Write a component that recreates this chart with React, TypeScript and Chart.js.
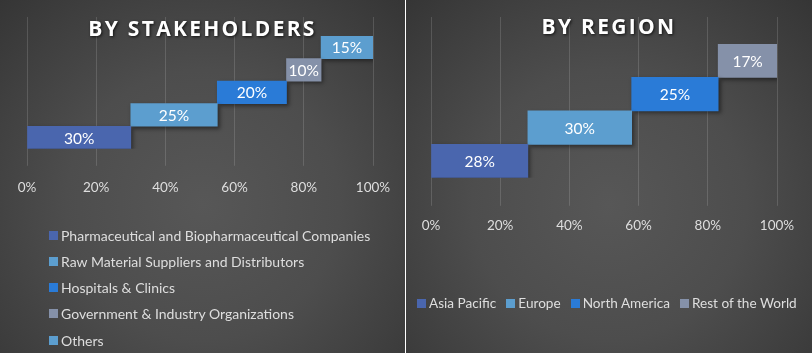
import React, { useEffect, useRef } from "react";
import { Chart, registerables } from "chart.js";

Chart.register(...registerables);

// ---------- data ----------
const stakeholderCategories = [
  "Pharmaceutical and Biopharmaceutical Companies",
  "Raw Material Suppliers and Distributors",
  "Hospitals & Clinics",
  "Government & Industry Organizations",
  "Others",
];
const stakeholderValues = [30, 25, 20, 10, 15];
const stakeholderColors = ["#4a66ae", "#5c9ecf", "#2a7bd7", "#8591a9", "#5c9ecf"];

const regionCategories = ["Asia Pacific", "Europe", "North America", "Rest of the World"];
const regionValues = [28, 30, 25, 17];
const regionColors = ["#4a66ae", "#5c9ecf", "#2a7bd7", "#8591a9"];

const axisTicks = [0, 20, 40, 60, 80, 100];

const GRID = "rgba(255,255,255,0.14)";
const TEXT = "#dedede";
const BG =
  "radial-gradient(ellipse 75% 85% at 50% 58%, #575757 0%, #4d4d4d 45%, #3f3f3f 75%, #333333 100%)";

type Layout = {
  padLeft: number;
  padRight: number;
  padTop: number;
  padBottom: number;
  topTick: number;
  bottomTick: number;
  labelPad: number;
};

function WaterfallChart({
  categories,
  values,
  colors,
  width,
  height,
  layout,
}: {
  categories: string[];
  values: number[];
  colors: string[];
  width: number;
  height: number;
  layout: Layout;
}) {
  const ref = useRef<HTMLCanvasElement | null>(null);

  useEffect(() => {
    if (!ref.current) return;
    let chart: Chart | null = null;
    let cancelled = false;

    const build = () => {
      if (cancelled || !ref.current) return;
      let cum = 0;
      const datasets = categories.map((name, i) => {
        const start = cum;
        cum += values[i];
        const end = cum;
        return {
          label: name,
          data: categories.map((_, j) => (j === i ? [start, end] : null)),
          backgroundColor: colors[i],
          borderWidth: 0,
          grouped: false,
          barPercentage: 1,
          categoryPercentage: 1,
        };
      });

      const setTicks = (scale: any) => {
        scale.ticks = axisTicks.map((v) => ({ value: v }));
      };

      const labelPlugin = {
        id: "barLabels",
        beforeDatasetsDraw(c: any) {
          const ctx = c.ctx;
          ctx.save();
          ctx.shadowColor = "rgba(0,0,0,0.45)";
          ctx.shadowBlur = 4;
          ctx.shadowOffsetX = 2;
          ctx.shadowOffsetY = 2;
        },
        afterDatasetsDraw(c: any) {
          const ctx = c.ctx;
          ctx.restore();
          ctx.save();
          ctx.fillStyle = "#ffffff";
          ctx.font = "15.5px Lato";
          ctx.textAlign = "center";
          ctx.textBaseline = "middle";
          c.data.datasets.forEach((ds: any, i: number) => {
            const meta = c.getDatasetMeta(i);
            meta.data.forEach((el: any, j: number) => {
              if (ds.data[j] == null) return;
              const p = el.getCenterPoint();
              ctx.fillText(values[i] + "%", p.x, p.y + 1);
            });
          });
          ctx.restore();
        },
      };

      chart = new Chart(ref.current, {
        type: "bar",
        data: { labels: categories, datasets: datasets as any },
        options: {
          indexAxis: "y",
          animation: false,
          responsive: false,
          layout: {
            padding: {
              left: layout.padLeft,
              right: layout.padRight,
              top: layout.padTop,
              bottom: layout.padBottom,
            },
          },
          plugins: {
            legend: { display: false },
            tooltip: { enabled: false },
            title: { display: false },
          },
          scales: {
            y: { type: "category", display: false, reverse: true },
            x: {
              type: "linear",
              position: "bottom",
              min: axisTicks[0],
              max: axisTicks[axisTicks.length - 1],
              afterBuildTicks: setTicks,
              grid: { color: GRID, lineWidth: 1, tickLength: layout.bottomTick },
              border: { display: false },
              ticks: {
                color: TEXT,
                font: { family: "Lato", size: 13.5 },
                padding: layout.labelPad,
                callback: (v: any) => v + "%",
              },
            },
            x2: {
              type: "linear",
              position: "top",
              min: axisTicks[0],
              max: axisTicks[axisTicks.length - 1],
              afterBuildTicks: setTicks,
              grid: {
                color: GRID,
                lineWidth: 1,
                drawOnChartArea: false,
                tickLength: layout.topTick,
              },
              border: { display: false },
              ticks: { display: false },
            },
          } as any,
        },
        plugins: [labelPlugin],
      });
    };

    const fontsReady = (document as any).fonts
      ? Promise.all([
          (document as any).fonts.load("13px Lato"),
          (document as any).fonts.load("15px Lato"),
        ]).catch(() => null)
      : Promise.resolve(null);
    fontsReady.then(build);

    return () => {
      cancelled = true;
      if (chart) chart.destroy();
    };
  }, []);

  return (
    <canvas
      ref={ref}
      width={width}
      height={height}
      style={{ position: "absolute", left: 0, top: 0, width, height }}
    />
  );
}

const titleStyle = (top: number): React.CSSProperties => ({
  position: "absolute",
  left: 0,
  right: 0,
  top,
  textAlign: "center",
  fontFamily: "'Open Sans', sans-serif",
  fontWeight: 700,
  fontSize: 21,
  lineHeight: "21px",
  letterSpacing: "2.3px",
  color: "#ffffff",
  textShadow: "1px 1px 3px rgba(0,0,0,0.75)",
  whiteSpace: "nowrap",
  pointerEvents: "none",
});

const legendText = (size: number): React.CSSProperties => ({
  fontFamily: "Lato, sans-serif",
  fontSize: size,
  color: TEXT,
  whiteSpace: "nowrap",
});

function Box({ color }: { color: string }) {
  return (
    <span
      style={{
        display: "inline-block",
        width: 9,
        height: 9,
        background: color,
        marginRight: 3,
        flex: "0 0 auto",
      }}
    />
  );
}

export default function App() {
  return (
    <div
      style={{
        position: "absolute",
        left: 0,
        top: 0,
        width: 812,
        height: 359,
        background: "#ffffff",
        overflow: "hidden",
      }}
    >
      {/* Left panel */}
      <div
        style={{
          position: "absolute",
          left: 0,
          top: 0,
          width: 405,
          height: 353,
          background: BG,
          overflow: "hidden",
        }}
      >
        <WaterfallChart
          categories={stakeholderCategories}
          values={stakeholderValues}
          colors={stakeholderColors}
          width={405}
          height={353}
          layout={{
            padLeft: 27,
            padRight: 32,
            padTop: 17,
            padBottom: 143,
            topTick: 19,
            bottomTick: 17,
            labelPad: 14,
          }}
        />
        <div style={titleStyle(18)}>BY STAKEHOLDERS</div>
        <div style={{ position: "absolute", left: 49, top: 222 }}>
          {stakeholderCategories.map((c, i) => (
            <div
              key={c}
              style={{ display: "flex", alignItems: "center", height: 26.25 }}
            >
              <Box color={stakeholderColors[i]} />
              <span style={legendText(14)}>{c}</span>
            </div>
          ))}
        </div>
      </div>

      {/* Right panel */}
      <div
        style={{
          position: "absolute",
          left: 406,
          top: 0,
          width: 406,
          height: 353,
          background: BG,
          overflow: "hidden",
        }}
      >
        <WaterfallChart
          categories={regionCategories}
          values={regionValues}
          colors={regionColors}
          width={406}
          height={353}
          layout={{
            padLeft: 25,
            padRight: 35,
            padTop: 17,
            padBottom: 107,
            topTick: 27,
            bottomTick: 28,
            labelPad: 12,
          }}
        />
        <div style={titleStyle(16)}>BY REGION</div>
        <div
          style={{
            position: "absolute",
            left: 11,
            top: 294,
            height: 18,
            display: "flex",
            alignItems: "center",
            gap: 10,
          }}
        >
          {regionCategories.map((c, i) => (
            <div key={c} style={{ display: "flex", alignItems: "center" }}>
              <Box color={regionColors[i]} />
              <span style={legendText(13.6)}>{c}</span>
            </div>
          ))}
        </div>
      </div>
    </div>
  );
}
